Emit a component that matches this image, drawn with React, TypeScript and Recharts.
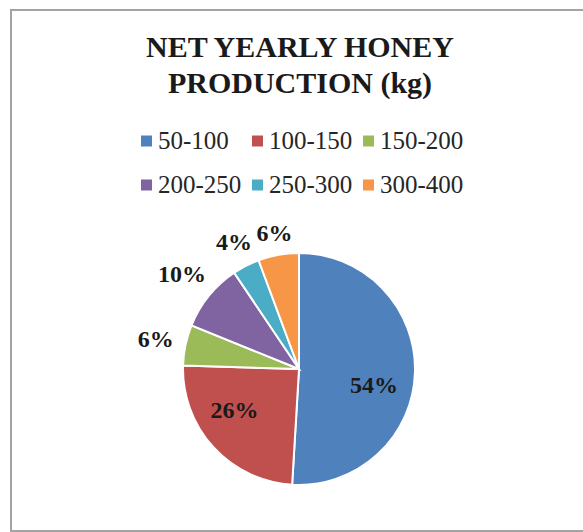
import React from 'react';
import { PieChart, Pie, Cell, Legend } from 'recharts';

const categories = ['50-100', '100-150', '150-200', '200-250', '250-300', '300-400'];
const shares = [54, 26, 6, 10, 4, 6];
const colors = ['#4F81BD', '#C0504D', '#9BBB59', '#8064A2', '#4BACC6', '#F79646'];
const titleLines = ['NET YEARLY HONEY', 'PRODUCTION (kg)'];

const data = categories.map((name, i) => ({ name, value: shares[i] }));

const RAD = Math.PI / 180;
const SERIF = '"Liberation Serif", "Times New Roman", serif';
const LABEL_FS = 24;

function renderLabel(props: any) {
  const { cx, cy, midAngle, outerRadius, value } = props;
  const text = `${value}%`;
  let x: number;
  let y: number;
  if (value >= 20) {
    const a = (midAngle - 10) * RAD;
    const r = outerRadius * 0.66;
    x = cx + r * Math.cos(a);
    y = cy - r * Math.sin(a);
  } else {
    const a = midAngle * RAD;
    const w = (String(value).length * 0.5 + 1) * LABEL_FS;
    const h = 16;
    const r = outerRadius + 11 + (w / 2) * Math.abs(Math.cos(a)) + (h / 2) * Math.abs(Math.sin(a));
    x = cx + r * Math.cos(a);
    y = cy - r * Math.sin(a);
  }
  return (
    <text
      x={x}
      y={y + 8}
      textAnchor="middle"
      fontFamily={SERIF}
      fontWeight="bold"
      fontSize={LABEL_FS}
      fill="#1a1a1a"
    >
      {text}
    </text>
  );
}

function LegendContent() {
  const x0 = 141;
  const colW = 111;
  const y0 = 141;
  const rowH = 44;
  return (
    <svg width={583} height={220} style={{ display: 'block' }}>
      {categories.map((name, i) => {
        const col = i % 3;
        const row = Math.floor(i / 3);
        const mx = x0 + col * colW;
        const cy = y0 + row * rowH;
        return (
          <g key={name}>
            <rect x={mx} y={cy - 5.5} width={11} height={11} fill={colors[i]} />
            <text x={mx + 17} y={cy + 8} fontFamily={SERIF} fontSize={25} fill="#262626">
              {name}
            </text>
          </g>
        );
      })}
    </svg>
  );
}

export default function App() {
  return (
    <div
      style={{
        position: 'absolute',
        left: 0,
        top: 0,
        width: 583,
        height: 532,
        overflow: 'hidden',
        background: '#ffffff',
      }}
    >
      <div
        style={{
          position: 'absolute',
          left: 10,
          top: 9,
          width: 700,
          height: 519,
          border: '2px solid #a3a3a3',
        }}
      />
      <div
        style={{
          position: 'absolute',
          left: 0,
          top: 29,
          width: 600,
          textAlign: 'center',
          fontFamily: SERIF,
          fontWeight: 'bold',
          fontSize: 30,
          lineHeight: '36px',
          color: '#1a1a1a',
        }}
      >
        {titleLines.map((t) => (
          <div key={t}>{t}</div>
        ))}
      </div>
      <div style={{ position: 'absolute', left: 0, top: 0 }}>
        <PieChart width={583} height={532} margin={{ top: 0, right: 0, bottom: 0, left: 0 }}>
          <Legend
            layout="horizontal"
            verticalAlign="middle"
            align="center"
            content={() => <LegendContent />}
            wrapperStyle={{ position: 'absolute', left: 0, top: 0, width: 583, height: 220 }}
          />
          <Pie
            data={data}
            dataKey="value"
            nameKey="name"
            cx={299}
            cy={369}
            outerRadius={116}
            startAngle={90}
            endAngle={-270}
            stroke="#ffffff"
            strokeWidth={2}
            label={renderLabel}
            labelLine={false}
            isAnimationActive={false}
          >
            {data.map((d, i) => (
              <Cell key={d.name} fill={colors[i]} />
            ))}
          </Pie>
        </PieChart>
      </div>
    </div>
  );
}
